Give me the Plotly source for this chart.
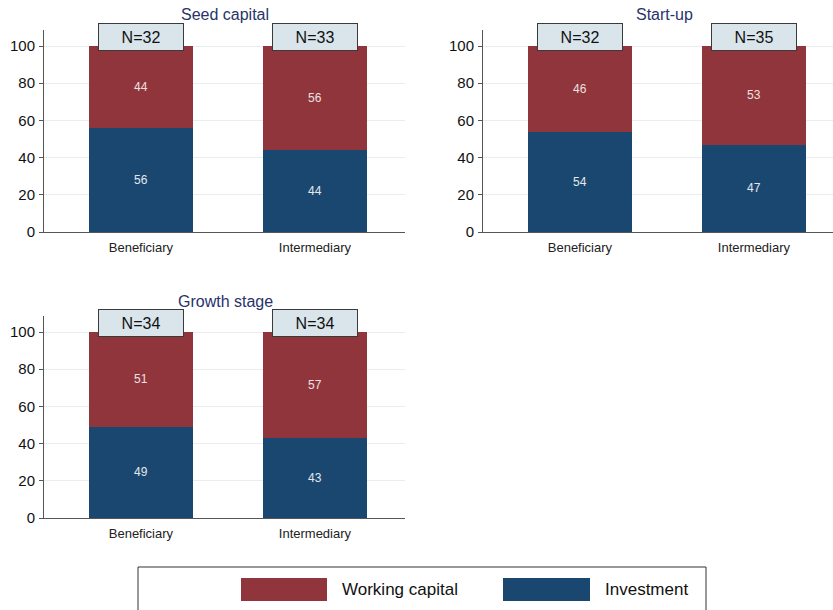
import plotly.graph_objects as go

# ---- data ----
stages = ["Seed capital", "Start-up", "Growth stage"]
roles = ["Beneficiary", "Intermediary"]
investment = [[56, 44], [54, 47], [49, 43]]
working_capital = [[44, 56], [46, 53], [51, 57]]
n_obs = [[32, 33], [32, 35], [34, 34]]
y_ticks = [0, 20, 40, 60, 80, 100]
series_names = ["Working capital", "Investment"]

# ---- style ----
W, H = 833, 610
H_EFF = 602.0   # vertical extent used to place items
RED = "#90353b"
BLUE = "#1a476f"
FONT = "Liberation Sans, Arial, sans-serif"
PX_PER_CAT = 174.0
PX_PER_UNIT = 1.86
LEFT_PAD = 0.557


def py(px):
    return 1 - px / H_EFF


# panel geometry in px: (left, right, top, bottom)
panels = [(44, 405, 30, 232), (483, 833, 30, 232), (44, 405, 316, 518)]
title_y_px = [14, 14, 301]
title_cx_px = [225, 664, 225]

fig = go.Figure()
layout_axes = {}
annotations = []

for i, stage in enumerate(stages):
    l, r, t, b = panels[i]
    xa = "x" if i == 0 else f"x{i+1}"
    ya = "y" if i == 0 else f"y{i+1}"
    xkey = "xaxis" if i == 0 else f"xaxis{i+1}"
    ykey = "yaxis" if i == 0 else f"yaxis{i+1}"

    fig.add_trace(go.Bar(
        x=roles, y=investment[i], name=series_names[1], xaxis=xa, yaxis=ya,
        marker=dict(color=BLUE, line=dict(width=0)), width=0.6,
        text=[str(v) for v in investment[i]], textposition="inside",
        insidetextanchor="middle", textangle=0,
        textfont=dict(family=FONT, size=12, color="#e4e8ee"),
        showlegend=False, hoverinfo="skip"))
    fig.add_trace(go.Bar(
        x=roles, y=working_capital[i], name=series_names[0], xaxis=xa, yaxis=ya,
        marker=dict(color=RED, line=dict(width=0)), width=0.6,
        text=[str(v) for v in working_capital[i]], textposition="inside",
        insidetextanchor="middle", textangle=0,
        textfont=dict(family=FONT, size=12, color="#eee0e2"),
        showlegend=False, hoverinfo="skip"))

    x_range = [-LEFT_PAD, -LEFT_PAD + (r - l) / PX_PER_CAT]
    y_range = [0, (b - t) / PX_PER_UNIT]
    layout_axes[xkey] = dict(
        domain=[l / W, r / W], range=x_range, anchor=ya,
        showline=True, linecolor="#555", linewidth=1, ticks="",
        showgrid=False, zeroline=False, fixedrange=True,
        tickfont=dict(family=FONT, size=13, color="#222"),
        ticklabelstandoff=3)
    layout_axes[ykey] = dict(
        domain=[py(b), py(t)], range=y_range, anchor=xa,
        showline=True, linecolor="#555", linewidth=1,
        ticks="outside", ticklen=4, tickcolor="#555",
        tickvals=y_ticks, showgrid=True, gridcolor="#e6eef0", gridwidth=1,
        zeroline=False, fixedrange=True,
        tickfont=dict(family=FONT, size=15, color="#111"),
        ticklabelstandoff=1)

    # N boxes
    for j, role in enumerate(roles):
        annotations.append(dict(
            x=role, y=104.8, xref=xa, yref=ya, text=f"N={n_obs[i][j]}",
            showarrow=False, xanchor="center", yanchor="middle",
            bgcolor="#d9e5eb", bordercolor="#3a3a3a", borderwidth=1,
            width=80, height=22, borderpad=2,
            font=dict(family=FONT, size=16, color="#111")))

    # panel title
    annotations.append(dict(
        x=title_cx_px[i] / W, y=py(title_y_px[i]), xref="paper", yref="paper",
        text=stage, showarrow=False, xanchor="center", yanchor="middle",
        font=dict(family=FONT, size=16, color="#28336a")))

# ---- legend (drawn) ----
shapes = []
shapes.append(dict(type="rect", xref="paper", yref="paper",
                   x0=138 / W, x1=706 / W, y0=py(567), y1=py(625),
                   line=dict(color="#333", width=1), fillcolor="white"))
legend_items = [(series_names[0], RED, 241, 327, 340),
                (series_names[1], BLUE, 503, 590, 603)]
for name, col, s0, s1, tx in legend_items:
    shapes.append(dict(type="rect", xref="paper", yref="paper",
                       x0=s0 / W, x1=s1 / W, y0=py(601), y1=py(578),
                       line=dict(width=0), fillcolor=col))
    annotations.append(dict(
        x=tx / W, y=py(589.5), xref="paper", yref="paper", text=name,
        showarrow=False, xanchor="left", yanchor="middle",
        font=dict(family=FONT, size=17, color="#111")))

fig.update_layout(
    width=W, height=H, margin=dict(l=0, r=0, t=0, b=0),
    paper_bgcolor="white", plot_bgcolor="white",
    barmode="stack", showlegend=False,
    font=dict(family=FONT),
    annotations=annotations, shapes=shapes,
    **layout_axes)

fig.write_html("out.html",
               config={"displayModeBar": False},
               post_script="document.body.style.margin='0';"
                           "document.body.style.overflow='hidden';")
